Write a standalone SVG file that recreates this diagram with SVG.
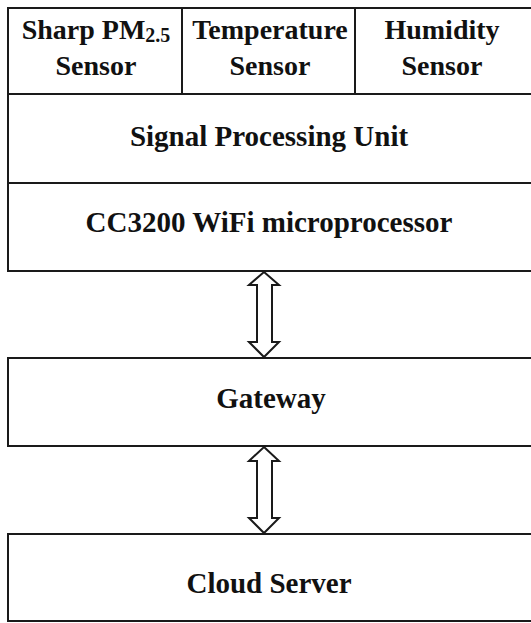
<svg xmlns="http://www.w3.org/2000/svg" width="531" height="623" viewBox="0 0 531 623">
<style>
.box{fill:#fff;stroke:#1a1a1a;stroke-width:2}
.t{font-family:"Liberation Serif","Times New Roman",serif;font-weight:bold;fill:#111;text-anchor:middle}
.big{font-size:29px}
.sm{font-size:28px}
.arr{fill:#fff;stroke:#1a1a1a;stroke-width:2;stroke-linejoin:miter}
</style>
<rect width="531" height="623" fill="#fff"/>
<g id="sensor-pm">
<rect class="box" x="8" y="8" width="174" height="86"/>
<text class="t sm" x="96" y="39">Sharp PM<tspan font-size="20" dy="3">2.5</tspan></text>
<text class="t sm" x="96" y="75">Sensor</text>
</g>
<g id="sensor-temp">
<rect class="box" x="182" y="8" width="173" height="86"/>
<text class="t sm" x="270" y="39">Temperature</text>
<text class="t sm" x="270" y="75">Sensor</text>
</g>
<g id="sensor-hum">
<rect class="box" x="355" y="8" width="178" height="86"/>
<text class="t sm" x="442" y="39">Humidity</text>
<text class="t sm" x="442" y="75">Sensor</text>
</g>
<g id="spu">
<rect class="box" x="8" y="94" width="525" height="89"/>
<text class="t big" x="269" y="146">Signal Processing Unit</text>
</g>
<g id="cc3200">
<rect class="box" x="8" y="183" width="525" height="88"/>
<text class="t big" x="269" y="232">CC3200 WiFi microprocessor</text>
</g>
<g id="gateway">
<rect class="box" x="8" y="358" width="525" height="88"/>
<text class="t big" x="271" y="408">Gateway</text>
</g>
<g id="cloud">
<rect class="box" x="8" y="534" width="525" height="87"/>
<text class="t big" x="269" y="593">Cloud Server</text>
</g>
<g id="connectors">
<polygon class="arr" points="264,272 279,285 272,285 272,342 279,342 264,357 249,342 257,342 257,285 249,285"/>
<polygon class="arr" points="264,447 279,461 272,461 272,518 279,518 264,533 249,518 257,518 257,461 249,461"/>
</g>
</svg>
